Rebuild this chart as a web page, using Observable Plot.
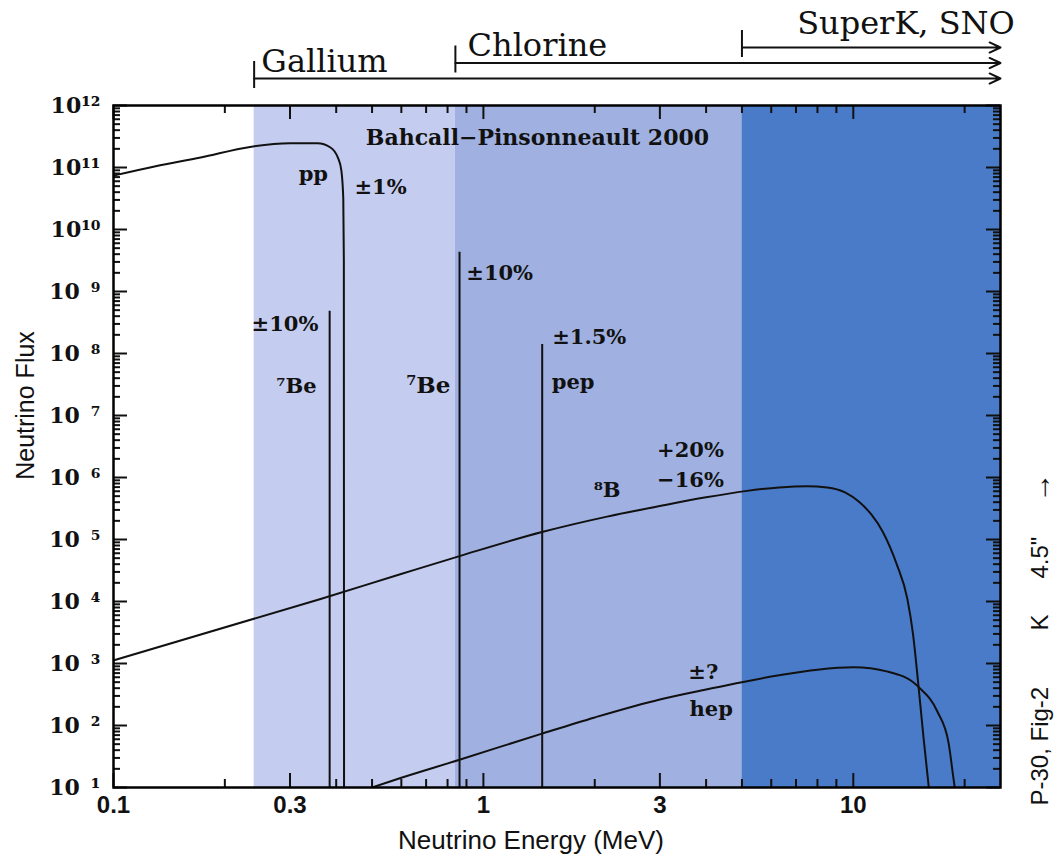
<!DOCTYPE html>
<html>
<head>
<meta charset="utf-8">
<script src="https://cdn.jsdelivr.net/npm/d3@7"></script>
<script src="https://cdn.jsdelivr.net/npm/@observablehq/plot@0.6"></script>
<style>
  html, body { margin: 0; padding: 0; background: #ffffff; }
  #chart svg { display: block; }
</style>
</head>
<body>
<div id="chart"></div>
<script>
// ---------------- data ----------------
const detectorNames = ["Gallium", "Chlorine", "SuperK, SNO"];
const detectorThresholds = [0.24, 0.84, 5.0];       // MeV
const detectorLabelE = [0.251, 0.906, 7.05];        // MeV, where each name starts
const energyMax = 25;                               // MeV (right edge)

// pp continuum
const ppE = [0.1, 0.13, 0.172, 0.234, 0.30, 0.356, 0.386, 0.405, 0.413, 0.418, 0.4195, 0.42];
const ppFlux = [7.4e10, 1.05e11, 1.45e11, 2.15e11, 2.45e11, 2.45e11, 2.1e11, 1.4e11, 9e10, 3.2e10, 3.2e9, 10];

// 8B continuum
const b8E = [0.1, 0.363, 0.596, 0.862, 1.44, 2.16, 3.0, 4.0, 5.1, 6.3, 7.5, 8.5, 9.5, 10.4, 11.2, 12.0, 13.1, 14.0, 14.5, 15.0, 15.5, 16.0];
const b8Flux = [1.12e3, 1.1e4, 2.75e4, 5.4e4, 1.32e5, 2.34e5, 3.47e5, 4.79e5, 6.03e5, 6.92e5, 7.24e5, 6.92e5, 5.75e5, 3.98e5, 2.51e5, 1.35e5, 4.0e4, 1.1e4, 3.0e3, 4.4e2, 6e1, 10];

// hep continuum
const hepE = [0.5, 0.57, 0.862, 1.44, 2.0, 3.0, 4.0, 5.0, 6.3, 8.0, 10.0, 12.4, 15.0, 16.9, 18.1, 18.6, 18.8];
const hepFlux = [10, 13, 28, 74, 135, 263, 380, 500, 645, 795, 870, 740, 420, 165, 52, 16, 10];

// line sources: 7Be (0.384), 7Be (0.862), pep (1.442)
const lineE = [0.384, 0.862, 1.442];
const lineFlux = [4.8e8, 4.3e9, 1.4e8];

// annotations
const labelText = ["Bahcall\u2212Pinsonneault 2000", "pp", "\u00b11%", "\u00b110%", "\u2077Be", "\u2077Be",
                   "\u00b110%", "\u00b11.5%", "pep", "+20%", "\u221216%", "\u2078B", "\u00b1?", "hep"];
const labelE = [1.40, 0.347, 0.527, 0.358, 0.354, 0.814, 0.899, 1.535, 1.53, 3.63, 3.63, 2.16, 3.93, 4.13];
const labelF = [3.0e11, 7.9e10, 4.8e10, 3.0e8, 3.0e7, 3.0e7, 1.95e9, 1.8e8, 3.4e7, 2.7e6, 8.9e5, 6.2e5, 720, 180];
const labelAlign = ["middle", "middle", "middle", "end", "end", "end", "start", "start", "start", "middle", "middle", "middle", "middle", "middle"];

// ticks
const xTickLabels = [0.1, 0.3, 1, 3, 10];
const xMinorTicks = [0.2, 0.4, 0.5, 0.6, 0.7, 0.8, 0.9, 2, 4, 5, 6, 7, 8, 9, 20];
const yMajorTicks = [1e1, 1e2, 1e3, 1e4, 1e5, 1e6, 1e7, 1e8, 1e9, 1e10, 1e11, 1e12];
const yMinorMultipliers = [2, 3, 4, 5, 6, 7, 8, 9];

const xTitle = "Neutrino Energy (MeV)";
const yTitle = "Neutrino Flux";
const sideNoteParts = ["P-30, Fig-2", "K", "4.5\"", "\u2192"];

// ---------------- styles ----------------
const bandColors = ["#c4ccef", "#a0b1e1", "#4a7bc8"];
const ink = "#111111";
const serif = "'DejaVu Serif', 'Liberation Serif', serif";
const sans = "'Liberation Sans', Arial, sans-serif";
const sideNoteOffsets = [18, -157, -209, -285];   // px from frame bottom (start of each rotated piece)
const W = 1064, H = 860, mTop = 105, mBottom = 73, mLeft = 113, mRight = 64;
const frameH = H - mTop - mBottom, frameW = W - mLeft - mRight;
const majorLen = 14, minorLen = 8;

// ---------------- tables ----------------
const toRows = (E, F) => E.map((e, i) => ({E: e, F: F[i]}));
const pp = toRows(ppE, ppFlux);
const b8 = toRows(b8E, b8Flux);
const hep = toRows(hepE, hepFlux);
const lines = toRows(lineE, lineFlux);
const bands = detectorThresholds.map((t, i) => ({
  x1: t, x2: i + 1 < detectorThresholds.length ? detectorThresholds[i + 1] : energyMax, color: bandColors[i]
}));
const labels = labelText.map((t, i) => ({text: t, E: labelE[i], F: labelF[i], align: labelAlign[i], i}));
const yMinorTicks = yMajorTicks.slice(0, -1).flatMap(d => yMinorMultipliers.map(m => d * m));
const xMajRows = xTickLabels.map(v => ({v}));
const xMinRows = xMinorTicks.map(v => ({v}));
const yMajRows = yMajorTicks.map(v => ({v}));
const yMinRows = yMinorTicks.map(v => ({v}));

const supMap = {"0":"\u2070","1":"\u00b9","2":"\u00b2","3":"\u00b3","4":"\u2074","5":"\u2075","6":"\u2076","7":"\u2077","8":"\u2078","9":"\u2079"};
const powerLabel = d => {
  const e = Math.round(Math.log10(d));
  const s = String(e).split("").map(c => supMap[c]).join("");
  return "10" + (e < 10 ? "\u2002" : "") + s;
};
const yTop = () => yMajorTicks[yMajorTicks.length - 1];
const yBottom = () => yMajorTicks[0];
const xRight = () => energyMax;

// ---------------- marks ----------------
const marks = [];

// shaded detector bands
marks.push(Plot.rect(bands, {x1: "x1", x2: "x2", fill: "color"}));

// continuum spectra
for (const data of [pp, b8, hep]) {
  marks.push(Plot.line(data, {x: "E", y: "F", curve: "monotone-x", stroke: ink, strokeWidth: 2, clip: true}));
}
// line spectra
marks.push(Plot.ruleX(lines, {x: "E", y1: yBottom, y2: "F", stroke: ink, strokeWidth: 2}));

// inner ticks on all four sides
const tickStyle = {stroke: ink, strokeWidth: 2};
marks.push(Plot.tickX(xMajRows, {x: "v", insetTop: frameH - majorLen, ...tickStyle}));
marks.push(Plot.tickX(xMinRows, {x: "v", insetTop: frameH - minorLen, ...tickStyle}));
marks.push(Plot.tickX(xMajRows, {x: "v", insetBottom: frameH - majorLen, ...tickStyle}));
marks.push(Plot.tickX(xMinRows, {x: "v", insetBottom: frameH - minorLen, ...tickStyle}));
marks.push(Plot.tickY(yMajRows, {y: "v", insetRight: frameW - majorLen, ...tickStyle}));
marks.push(Plot.tickY(yMinRows, {y: "v", insetRight: frameW - minorLen + 1, ...tickStyle}));
marks.push(Plot.tickY(yMajRows, {y: "v", insetLeft: frameW - majorLen, ...tickStyle}));
marks.push(Plot.tickY(yMinRows, {y: "v", insetLeft: frameW - minorLen + 1, ...tickStyle}));

marks.push(Plot.frame({stroke: "#000", strokeWidth: 2.5}));

// tick labels
marks.push(Plot.axisX({ticks: xTickLabels, tickSize: 0, tickPadding: 8, tickFormat: d => String(d), label: null,
  fontSize: 24, fontWeight: "bold", fontFamily: sans, fill: ink}));
marks.push(Plot.axisY({ticks: yMajorTicks, tickSize: 0, tickPadding: 13, tickFormat: powerLabel, label: null,
  fontSize: 22, fontWeight: "bold", fontFamily: serif, fill: ink}));

// axis titles
marks.push(Plot.text([xTitle], {text: d => d, frameAnchor: "bottom", lineAnchor: "middle", textAnchor: "middle",
  dx: -26, dy: 53, fontSize: 26, fontFamily: sans, fill: ink}));
marks.push(Plot.text([yTitle], {text: d => d, frameAnchor: "left", textAnchor: "middle", lineAnchor: "middle",
  rotate: -90, dx: -88, dy: -41, fontSize: 25, fontFamily: sans, fill: ink}));
// side note (rotated, reading bottom to top)
sideNoteParts.forEach((part, i) => {
  const isArrow = i === sideNoteParts.length - 1;
  marks.push(Plot.text([part], {text: d => d, frameAnchor: "bottom-right", rotate: -90, textAnchor: "start",
    lineAnchor: "middle", dx: 40, dy: sideNoteOffsets[i], fontSize: isArrow ? 30 : 24,
    fontWeight: isArrow ? "bold" : "normal", fontFamily: sans, fill: ink}));
});

// annotations
for (const align of ["start", "middle", "end"]) {
  marks.push(Plot.text(labels.filter(d => d.align === align && d.i !== 5 && d.i !== 0), {
    x: "E", y: "F", text: "text", textAnchor: align, fontSize: 21, fontWeight: "bold", fontFamily: serif, fill: ink
  }));
}
marks.push(Plot.text(labels.filter(d => d.i === 0), {
  x: "E", y: "F", text: "text", textAnchor: "middle", fontSize: 22, fontWeight: "bold", fontFamily: serif, fill: ink
}));
marks.push(Plot.text(labels.filter(d => d.i === 5), {
  x: "E", y: "F", text: "text", textAnchor: "end", fontSize: 23, fontWeight: "bold", fontFamily: serif, fill: ink
}));

// detector threshold brackets above the frame
const bracketRowGap = 15.5, bracketFirst = 27, labelLift = [7, 7, 14];
detectorNames.forEach((name, i) => {
  const dy = -(bracketFirst + bracketRowGap * i);
  const row = [{name, t: detectorThresholds[i], lx: detectorLabelE[i]}];
  marks.push(Plot.arrow(row, {x1: "t", x2: xRight, y1: yTop, y2: yTop, dy,
    stroke: ink, strokeWidth: 2, headLength: 9, headAngle: 50}));
  marks.push(Plot.ruleX(row, {x: "t", y1: yTop, y2: yTop, dy, insetTop: -17, insetBottom: -10,
    stroke: ink, strokeWidth: 2}));
  marks.push(Plot.text(row, {x: "lx", y: yTop, text: "name", dy: dy - labelLift[i], textAnchor: "start",
    lineAnchor: "bottom", fontSize: 32, fontFamily: serif, fill: ink}));
});

const chart = Plot.plot({
  width: W, height: H,
  marginTop: mTop, marginBottom: mBottom, marginLeft: mLeft, marginRight: mRight,
  style: {background: "#ffffff", overflow: "visible", color: ink},
  x: {type: "log", domain: [0.1, energyMax]},
  y: {type: "log", domain: [1e1, 1e12]},
  marks
});
document.getElementById("chart").appendChild(chart);
</script>
</body>
</html>
